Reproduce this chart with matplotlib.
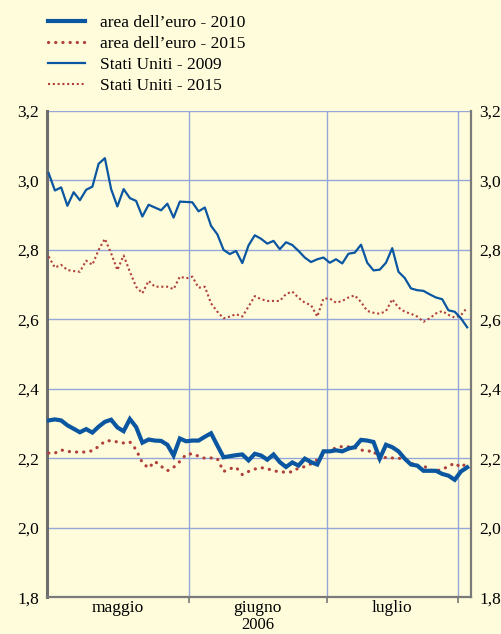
import numpy as np
import pandas as pd
import matplotlib
matplotlib.use('Agg')
import matplotlib.pyplot as plt

plt.rcParams['font.family'] = ['Liberation Serif', 'DejaVu Serif']

# giorni lavorativi 1 maggio - 2 agosto 2006
dates = pd.bdate_range('2006-05-01', '2006-08-02')

area_euro_2010 = [2.309, 2.312, 2.309, 2.295, 2.285, 2.275, 2.284, 2.274, 2.291, 2.305, 2.311, 2.289,
                  2.278, 2.313, 2.290, 2.245, 2.254, 2.251, 2.250, 2.239, 2.208, 2.257, 2.249,
                  2.251, 2.251, 2.262, 2.272, 2.237, 2.203, 2.206, 2.209, 2.211, 2.194, 2.213, 2.208,
                  2.196, 2.211, 2.189, 2.175, 2.188, 2.179, 2.199, 2.189, 2.182, 2.220,
                  2.220, 2.223, 2.220, 2.228, 2.232, 2.253, 2.251, 2.247, 2.199, 2.239, 2.232, 2.220,
                  2.199, 2.182, 2.179, 2.164, 2.164, 2.164, 2.155, 2.150, 2.138, 2.162, 2.174]
area_euro_2015 = [2.215, 2.215, 2.224, 2.220, 2.218, 2.218, 2.218, 2.222, 2.234, 2.249, 2.251, 2.247,
                  2.244, 2.247, 2.225, 2.187, 2.172, 2.191, 2.177, 2.164, 2.174, 2.191, 2.211,
                  2.213, 2.206, 2.200, 2.201, 2.199, 2.162, 2.170, 2.174, 2.153, 2.162, 2.169, 2.173,
                  2.170, 2.164, 2.161, 2.160, 2.161, 2.172, 2.176, 2.184, 2.196, 2.211,
                  2.223, 2.230, 2.234, 2.233, 2.231, 2.224, 2.220, 2.222, 2.195, 2.203, 2.201, 2.200,
                  2.199, 2.187, 2.176, 2.179, 2.166, 2.164, 2.168, 2.177, 2.186, 2.174, 2.187]
usa_2009 = [3.021, 2.971, 2.980, 2.927, 2.966, 2.943, 2.973, 2.982, 3.048, 3.064, 2.975, 2.925,
            2.975, 2.949, 2.941, 2.896, 2.930, 2.922, 2.914, 2.933, 2.893, 2.939, 2.938,
            2.937, 2.911, 2.922, 2.869, 2.845, 2.800, 2.788, 2.797, 2.762, 2.813, 2.842, 2.832,
            2.818, 2.826, 2.802, 2.822, 2.814, 2.797, 2.778, 2.765, 2.773, 2.778,
            2.763, 2.773, 2.761, 2.789, 2.792, 2.815, 2.763, 2.741, 2.743, 2.763, 2.805, 2.737,
            2.719, 2.689, 2.684, 2.682, 2.672, 2.663, 2.658, 2.626, 2.622, 2.603, 2.577]
usa_2015 = [2.781, 2.749, 2.757, 2.742, 2.739, 2.737, 2.769, 2.757, 2.800, 2.832, 2.790, 2.742,
            2.784, 2.737, 2.694, 2.675, 2.711, 2.694, 2.694, 2.694, 2.687, 2.723, 2.718,
            2.723, 2.691, 2.694, 2.646, 2.622, 2.603, 2.608, 2.615, 2.608, 2.637, 2.667, 2.658,
            2.653, 2.653, 2.653, 2.673, 2.680, 2.662, 2.648, 2.641, 2.608, 2.660,
            2.660, 2.648, 2.653, 2.663, 2.669, 2.650, 2.624, 2.619, 2.616, 2.624, 2.658, 2.634,
            2.622, 2.616, 2.608, 2.593, 2.603, 2.617, 2.624, 2.613, 2.605, 2.612, 2.634]

mesi = ['maggio', 'giugno', 'luglio']
yticks = [1.8, 2.0, 2.2, 2.4, 2.6, 2.8, 3.0, 3.2]

bg = '#FFFCDC'
blu = '#0A56A0'
rosso = '#B0413A'
griglia = '#95A6D8'

x = np.arange(len(dates))
# confini dei mesi (tra ultimo giorno di un mese e primo del successivo)
mese = dates.month
confini = [i - 0.5 for i in range(1, len(dates)) if mese[i] != mese[i - 1]]
centri = [np.mean(x[mese == m]) for m in [5, 6, 7]]
centri[0] = (confini[0] - 0.25) / 2

fig = plt.figure(figsize=(5.01, 6.34), dpi=100, facecolor=bg)
ax = fig.add_axes([0.094, 0.058, 0.846, 0.767], facecolor=bg)

l1, = ax.plot(x, area_euro_2010, color=blu, lw=3.0, solid_joinstyle='miter', zorder=4)
l2, = ax.plot(x, area_euro_2015, color=rosso, lw=2.3, linestyle=(0, (0.05, 2.2)),
              dash_capstyle='round', zorder=3)
l3, = ax.plot(x, usa_2009, color=blu, lw=1.6, zorder=4)
l4, = ax.plot(x, usa_2015, color=rosso, lw=1.5, linestyle=(0, (1, 1.3)), zorder=3)

ax.set_xlim(-0.25, 67.6)
ax.set_ylim(1.8, 3.2)
ax.set_yticks(yticks)
ax.set_yticklabels([('%.1f' % v).replace('.', ',') for v in yticks])
ax.tick_params(axis='y', length=0, labelsize=12.5, labelright=True, pad=6)

ax.set_xticks(confini[:3])
ax.set_xticklabels([])
ax.set_xticks(centri, minor=True)
ax.set_xticklabels(mesi, minor=True)
ax.tick_params(axis='x', which='major', length=4, width=1.2, color='#777777', direction='out')
ax.tick_params(axis='x', which='minor', length=0, labelsize=12.5, pad=2)

ax.grid(True, which='major', color=griglia, lw=1.0)
ax.set_axisbelow(True)

ax.spines['top'].set_visible(False)
ax.spines['left'].set_color('#6E6E6E')
ax.spines['left'].set_linewidth(2.2)
ax.spines['right'].set_color('#7A7A7A')
ax.spines['right'].set_linewidth(1.6)
ax.spines['bottom'].set_color('#7A7A7A')
ax.spines['bottom'].set_linewidth(1.6)

ax.text(centri[1], -0.066, '2006', transform=ax.get_xaxis_transform(),
        ha='center', va='baseline', fontsize=12)

fig.legend([l1, l2, l3, l4],
           ["area dell’euro - 2010", "area dell’euro - 2015",
            'Stati Uniti - 2009', 'Stati Uniti - 2015'],
           loc='upper left', bbox_to_anchor=(0.096, 0.977), frameon=False,
           fontsize=12.5, handlelength=2.15, handletextpad=0.85,
           labelspacing=0.28, borderpad=0, borderaxespad=0)

fig.savefig('out.png', dpi=100, facecolor=bg)
